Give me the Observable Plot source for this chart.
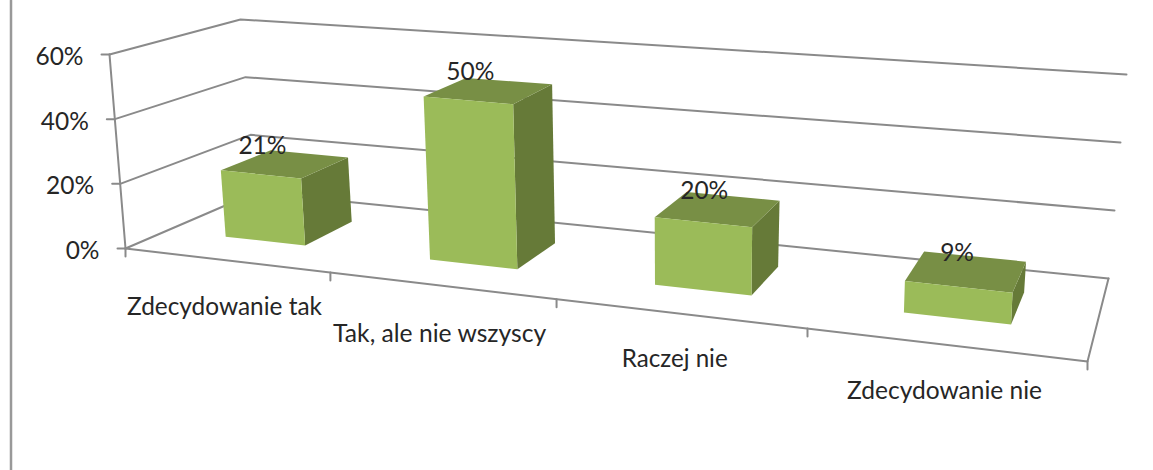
<!DOCTYPE html>
<html><head><meta charset="utf-8">
<script src="https://cdn.jsdelivr.net/npm/d3@7"></script>
<script src="https://cdn.jsdelivr.net/npm/@observablehq/plot@0.6"></script>
<style>html,body{margin:0;padding:0;background:#fff}svg{display:block}</style>
</head><body><div id="chart"></div>
<script>
const categories = ["Zdecydowanie tak", "Tak, ale nie wszyscy", "Raczej nie", "Zdecydowanie nie"];
const values = [21, 50, 20, 9];
const yTicks = [0, 20, 40, 60];
const xTicks = [0, 1, 2, 3, 4];

// 3D view: floor corners as seen in the picture, and the rise of the box at each corner
const floorQuad = [[125,248],[1087,361],[1108,278],[255,192]];
const riseQuad  = [[-16,-194],[10,-220],[18,-204],[-15,-173]];
const HMAX = 60, barInset = 0.3, depth0 = 0.3, depth1 = 0.7;
const catLabelOffset = [[-1,47],[-1,49],[-4,46],[1,47]];
const catLabelWidth = [195,213,106,195];

function homography(q){
  const [[x0,y0],[x1,y1],[x2,y2],[x3,y3]] = q;
  const dx1=x1-x2, dx2=x3-x2, dx3=x0-x1+x2-x3, dy1=y1-y2, dy2=y3-y2, dy3=y0-y1+y2-y3;
  const det=dx1*dy2-dx2*dy1;
  const g=(dx3*dy2-dx2*dy3)/det, h=(dx1*dy3-dx3*dy1)/det;
  const a=x1-x0+g*x1, b=x3-x0+h*x3, d=y1-y0+g*y1, e=y3-y0+h*y3;
  return (s,t)=>{const w=g*s+h*t+1;return [(a*s+b*t+x0)/w,(d*s+e*t+y0)/w];};
}
const hFloor = homography(floorQuad);
const lerp=(a,b,t)=>a+(b-a)*t;
function P(u,v,val){
  const f=hFloor(u/categories.length,v);
  const left=lerp(floorQuad[0][0],floorQuad[3][0],v), right=lerp(floorQuad[1][0],floorQuad[2][0],v);
  const s=(f[0]-left)/(right-left), k=val/HMAX;
  const rise=[0,1].map(i=>lerp(lerp(riseQuad[0][i],riseQuad[1][i],s),lerp(riseQuad[3][i],riseQuad[2][i],s),v));
  return [f[0]+rise[0]*k, f[1]+rise[1]*k];
}

const lines=[], polys=[];
const addLine=(id,pts)=>pts.forEach(p=>lines.push({id,x:p[0],y:p[1]}));
yTicks.forEach(h=>{
  addLine("g"+h,[P(0,0,h),P(0,1,h),P(4,1,h)]);
  const a=P(0,0,h); addLine("t"+h,[a,[a[0]-8,a[1]]]);
});
addLine("yaxis",[P(0,0,0),P(0,0,HMAX)]);
addLine("floor",[P(0,0,0),P(4,0,0),P(4,1,0)]);
xTicks.forEach(k=>{const a=P(k,0,0); addLine("x"+k,[a,[a[0],a[1]+8]]);});

const colors={front:"#9bbb59",top:"#788f45",side:"#667a38"};
values.forEach((val,k)=>{
  const u0=k+barInset,u1=k+1-barInset;
  const add=(face,pts)=>pts.forEach(p=>polys.push({id:k+face,face,x:p[0],y:p[1]}));
  add("side",[P(u1,depth0,0),P(u1,depth1,0),P(u1,depth1,val),P(u1,depth0,val)]);
  add("top",[P(u0,depth0,val),P(u1,depth0,val),P(u1,depth1,val),P(u0,depth1,val)]);
  add("front",[P(u0,depth0,0),P(u1,depth0,0),P(u1,depth0,val),P(u0,depth0,val)]);
});

const yLabels=yTicks.map(h=>{const a=P(0,0,h);return {x:a[0]-26,y:a[1]+2.5,t:h+"%"};});
const valLabels=values.map((val,k)=>{const a=P(k+0.5,0.5,val);return {x:a[0]-23+4.5*k,y:a[1]-18,t:val+"%"};});
const catLabels=categories.map((c,k)=>{const a=P(k+0.5,0,0);return {x:a[0]+catLabelOffset[k][0],y:a[1]+catLabelOffset[k][1],t:c};});
const frame=[{x:10.5,y:0},{x:10.5,y:470}];

const font={fontFamily:"Lato, 'Open Sans', sans-serif",fontSize:24.5,fill:"#262626"};
const chart=Plot.plot({
  width:1153,height:470,margin:0,
  x:{type:"linear",domain:[0,1153],range:[0,1153],axis:null},
  y:{type:"linear",domain:[0,470],range:[0,470],axis:null},
  marks:[
    Plot.line(frame,{x:"x",y:"y",stroke:"#999999",strokeWidth:2.5}),
    Plot.line(lines,{x:"x",y:"y",z:"id",stroke:"#8a8a8a",strokeWidth:2,curve:"linear"}),
    ...d3.groups(polys,d=>d.id).map(([id,pts])=>Plot.line(pts.concat(pts[0]),{x:"x",y:"y",fill:colors[pts[0].face],stroke:"none"})),
    Plot.text(yLabels,{x:"x",y:"y",text:"t",textAnchor:"end",...font}),
    Plot.text(catLabels,{x:"x",y:"y",text:"t",textAnchor:"middle",...font}),
    Plot.text(valLabels,{x:"x",y:"y",text:"t",textAnchor:"middle",...font})
  ]
});
d3.select(chart).selectAll("text").each(function(){
  const i=categories.indexOf(this.textContent);
  if(i>=0){this.setAttribute("textLength",catLabelWidth[i]);this.setAttribute("lengthAdjust","spacingAndGlyphs");}
});
document.getElementById("chart").append(chart);
</script></body></html>
